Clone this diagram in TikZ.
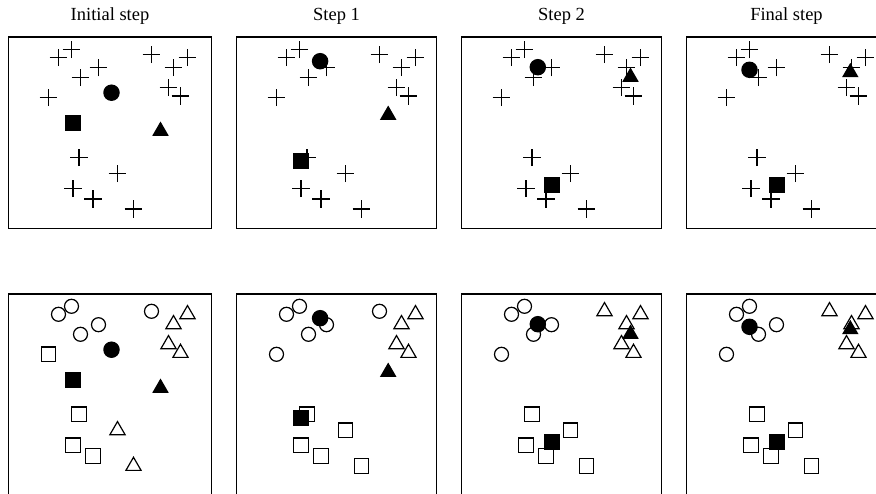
\documentclass[tikz,border=0pt]{standalone}
\usepackage{fontspec}
\setmainfont{Liberation Serif}
\usetikzlibrary{shapes.geometric, shapes.misc}

\begin{document}
\begin{tikzpicture}[x=1pt, y=-1pt,
  box/.style={draw, line width=1.5pt},
  plus/.style={draw, cross out, rotate=45, inner sep=0pt, minimum size=11.3pt, line width=1.1pt},
  ocirc/.style={circle, draw, inner sep=0pt, minimum size=14pt, line width=1.2pt},
  osq/.style={rectangle, draw, inner sep=0pt, minimum size=14.5pt, line width=1.2pt},
  otri/.style={regular polygon, regular polygon sides=3, draw, inner sep=0pt, minimum size=17.5pt, line width=1.2pt},
  fcirc/.style={circle, fill, inner sep=0pt, minimum size=16.5pt},
  fsq/.style={rectangle, fill, inner sep=0pt, minimum size=16pt},
  ftri/.style={regular polygon, regular polygon sides=3, fill, inner sep=0pt, minimum size=19pt},
  title/.style={anchor=base, font=\fontsize{18.5}{22}\selectfont}]
\useasboundingbox (0,0) rectangle (876,493);
\clip (0,0) rectangle (876,493);

\node[title] (t1) at (110,20.7) {Initial step};
\node[title] (t2) at (336.5,20.7) {Step 1};
\node[title] (t3) at (561.5,20.7) {Step 2};
\node[title] (t4) at (786.5,20.7) {Final step};

\foreach \L/\w [count=\i] in {8.5/203, 236.5/200, 461.5/200, 686.5/200} {
  \draw[box] (\L,37) rectangle (\L+\w,228.5);
  \draw[box] (\L,294) rectangle (\L+\w,520);
}

\foreach \x/\y/\a/\b/\c [count=\k] in {
  50/57.3/ocirc/ocirc/ocirc, 63/49.3/ocirc/ocirc/ocirc, 90/67.7/ocirc/ocirc/ocirc,
  72/77.3/ocirc/ocirc/ocirc, 40/97.3/osq/ocirc/ocirc, 143/54.3/ocirc/ocirc/otri,
  179/57.3/otri/otri/otri, 165/67.3/otri/otri/otri, 160/87.3/otri/otri/otri,
  172/96/otri/otri/otri, 70.5/157.3/osq/osq/osq, 109/173.3/otri/osq/osq,
  64.5/188.3/osq/osq/osq, 84.5/199/osq/osq/osq, 125/209/otri/osq/osq} {
  \foreach \L/\m [count=\i] in {8.5/\a, 236.5/\b, 461.5/\c, 686.5/\c} {
    \node[plus] (p\k-\i) at (\L+\x,\y) {};
    \node[\m] (q\k-\i) at (\L+\x,\y+257) {};
  }
}

\foreach \L/\cx/\cy/\sx/\sy/\tx/\ty [count=\i] in {
  8.5/103/92.7/64.5/123.3/152/131,
  236.5/83.6/61.2/64.9/160.5/151.7/115,
  461.5/76.3/67.2/90.7/185.4/169/77,
  686.5/63/69.8/90.7/185.4/163.8/72.4} {
  \node[fcirc] (c\i) at (\L+\cx,\cy) {};
  \node[fsq] (s\i) at (\L+\sx,\sy) {};
  \node[ftri] (r\i) at (\L+\tx,\ty) {};
  \node[fcirc] (cc\i) at (\L+\cx,\cy+257) {};
  \node[fsq] (ss\i) at (\L+\sx,\sy+257) {};
  \node[ftri] (rr\i) at (\L+\tx,\ty+257) {};
}
\end{tikzpicture}
\end{document}
